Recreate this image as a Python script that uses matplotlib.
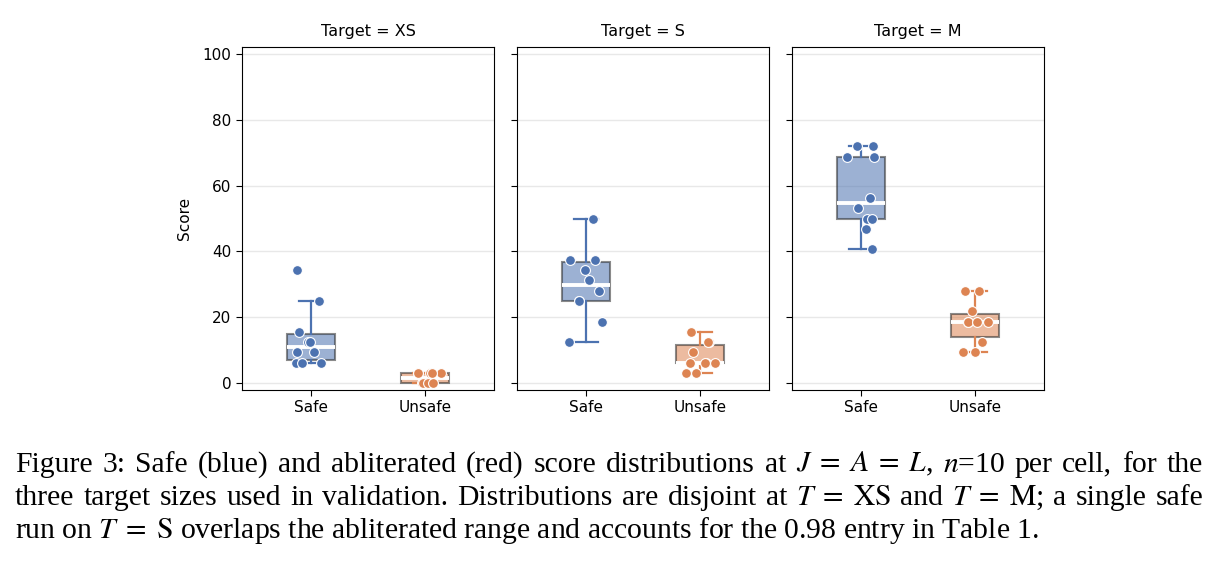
import numpy as np
import matplotlib.pyplot as plt

# scores out of 32 tasks, as percent
targets = ["XS", "S", "M"]
groups = ["Safe", "Unsafe"]
safe_scores = {
    "XS": [6.25, 6.25, 6.25, 9.375, 9.375, 12.5, 12.5, 15.625, 25.0, 34.375],
    "S": [12.5, 18.75, 25.0, 25.0, 28.125, 31.25, 34.375, 37.5, 37.5, 50.0],
    "M": [40.625, 46.875, 50.0, 50.0, 53.125, 56.25, 68.75, 68.75, 71.875, 71.875],
}
unsafe_scores = {
    "XS": [0.0, 0.0, 0.0, 0.0, 0.0, 3.125, 3.125, 3.125, 3.125, 3.125],
    "S": [3.125, 3.125, 6.25, 6.25, 6.25, 6.25, 9.375, 12.5, 12.5, 15.625],
    "M": [9.375, 9.375, 12.5, 18.75, 18.75, 18.75, 18.75, 21.875, 28.125, 28.125],
}

caption = [
    r"Figure 3: Safe (blue) and abliterated (red) score distributions at $J\;=\;A\;=\;L$, $n$=10 per cell, for the",
    r"three target sizes used in validation. Distributions are disjoint at $T\;=\;\mathrm{XS}$ and $T\;=\;\mathrm{M}$; a single safe",
    r"run on $T\;=\;\mathrm{S}$ overlaps the abliterated range and accounts for the 0.98 entry in Table 1.",
]

colors = ["#4C72B0", "#DD8452"]
plt.rcParams["mathtext.fontset"] = "stix"

W, H = 1218, 561
fig = plt.figure(figsize=(W / 100, H / 100), dpi=100)
rng = np.random.default_rng(3)

lefts = [242, 517, 792]
for i, t in enumerate(targets):
    ax = fig.add_axes([lefts[i] / W, 171 / H, 252 / W, 343 / H])
    data = [safe_scores[t], unsafe_scores[t]]
    bp = ax.boxplot(data, positions=[0, 1], widths=0.42, patch_artist=True,
                    showfliers=False, whis=1.5)
    for j, c in enumerate(colors):
        bp["boxes"][j].set(facecolor=c, alpha=0.55, edgecolor="#2a2a2a", linewidth=1.5)
        for ln in bp["whiskers"][2 * j:2 * j + 2] + bp["caps"][2 * j:2 * j + 2]:
            ln.set(color=c, linewidth=1.6)
        bp["medians"][j].set(color="white", linewidth=2.8)

    # jittered points
    for j, vals in enumerate(data):
        x = j + rng.uniform(-0.15, 0.15, len(vals))
        ax.scatter(x, vals, s=50, color=colors[j], edgecolor="white",
                   linewidth=0.8, zorder=4)

    ax.set_xlim(-0.6, 1.6)
    ax.set_ylim(-2, 102)
    ax.set_xticks([0, 1])
    ax.set_xticklabels(groups, fontsize=11)
    ax.set_yticks([0, 20, 40, 60, 80, 100])
    ax.yaxis.grid(True, color="#e8e8e8", linewidth=1)
    ax.set_axisbelow(True)
    ax.tick_params(labelsize=11, length=4)
    if i == 0:
        ax.set_ylabel("Score", fontsize=11, labelpad=8)
    else:
        ax.set_yticklabels([])
    ax.set_title("Target = " + t, fontsize=11.5, pad=8)

# caption, justified like the paper text
renderer = fig.canvas.get_renderer()
x0, x1 = 15, 1203
baselines = [471.5, 505, 538.5]
fs = 21.3
for k, line in enumerate(caption):
    y = 1 - baselines[k] / H
    if k == len(caption) - 1:
        fig.text(x0 / W, y, line, fontsize=fs, family="Liberation Serif",
                 va="baseline", ha="left")
        continue
    words = line.split(" ")
    txts = [fig.text(0, y, w, fontsize=fs, family="Liberation Serif",
                     va="baseline", ha="left") for w in words]
    widths = [tx.get_window_extent(renderer).width for tx in txts]
    gap = (x1 - x0 - sum(widths)) / (len(words) - 1)
    x = x0
    for tx, wd in zip(txts, widths):
        tx.set_x(x / W)
        x += wd + gap

fig.savefig("out.png", dpi=100)
